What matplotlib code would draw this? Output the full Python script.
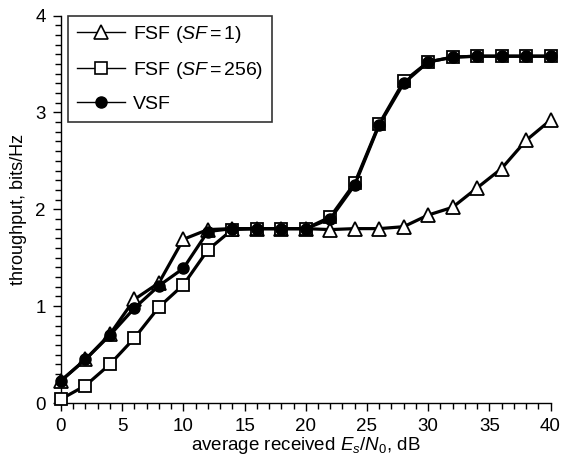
import matplotlib
matplotlib.use("Agg")
import matplotlib.pyplot as plt
from matplotlib.ticker import MultipleLocator
from matplotlib.lines import Line2D

plt.rcParams['font.family'] = ['Liberation Sans', 'DejaVu Sans']
plt.rcParams['mathtext.fontset'] = 'custom'
plt.rcParams['mathtext.rm'] = 'Liberation Sans'
plt.rcParams['mathtext.it'] = 'Liberation Sans:italic'

snr_db = [0, 2, 4, 6, 8, 10, 12, 14, 16, 18, 20, 22, 24, 26, 28, 30, 32, 34, 36, 38, 40]
fsf_sf1 = [0.23, 0.45, 0.71, 1.07, 1.24, 1.69, 1.79, 1.80, 1.80, 1.80, 1.80, 1.79, 1.80, 1.80, 1.82, 1.94, 2.02, 2.22, 2.42, 2.71, 2.92]
fsf_sf256 = [0.04, 0.18, 0.40, 0.67, 0.99, 1.22, 1.58, 1.79, 1.80, 1.80, 1.80, 1.92, 2.27, 2.88, 3.32, 3.52, 3.57, 3.58, 3.58, 3.58, 3.58]
vsf = [0.23, 0.45, 0.70, 0.98, 1.21, 1.39, 1.77, 1.80, 1.80, 1.80, 1.80, 1.90, 2.25, 2.87, 3.30, 3.52, 3.57, 3.58, 3.58, 3.58, 3.58]
labels = ['FSF ($SF\\,$=$\\,$1)', 'FSF ($SF\\,$=$\\,$256)', 'VSF']

fig = plt.figure(figsize=(5.63, 4.57), dpi=100)
ax = fig.add_axes([61/563, 1 - 403/457, (550.5 - 61)/563, (403 - 15.5)/457])

ax.plot(snr_db, fsf_sf1, color='black', lw=2.3, marker='^', ms=10, mfc='white', mec='black', mew=1.3, zorder=3, clip_on=False)
ax.plot(snr_db, fsf_sf256, color='black', lw=2.3, marker='s', ms=9, mfc='white', mec='black', mew=1.3, zorder=4, clip_on=False)
ax.plot(snr_db, vsf, color='black', lw=2.3, marker='o', ms=8, mfc='black', mec='black', zorder=5, clip_on=False)

ax.set_xlim(0, 40)
ax.set_ylim(0, 4)
ax.xaxis.set_major_locator(MultipleLocator(5))
ax.xaxis.set_minor_locator(MultipleLocator(1))
ax.yaxis.set_major_locator(MultipleLocator(1))
ax.yaxis.set_minor_locator(MultipleLocator(0.1))
ax.spines['top'].set_visible(False)
ax.spines['right'].set_visible(False)
ax.tick_params(which='major', direction='out', length=6, width=1, labelsize=13.5, pad=5)
ax.tick_params(which='minor', direction='out', length=4, width=1)
for s in ax.spines.values():
    s.set_linewidth(1)

ax.set_xlabel('average received $E_s/N_0$, dB', fontsize=13.5, labelpad=0)
ax.set_ylabel('throughput, bits/Hz', fontsize=13, labelpad=6)

handles = [
    Line2D([], [], color='black', lw=1, marker='^', ms=10, mfc='white', mec='black', mew=1.2),
    Line2D([], [], color='black', lw=1, marker='s', ms=9, mfc='white', mec='black', mew=1.2),
    Line2D([], [], color='black', lw=1, marker='o', ms=8, mfc='black', mec='black'),
]
leg = ax.legend(handles, labels, loc='upper left', bbox_to_anchor=(7/489.5, 1.0),
                fontsize=14, frameon=True, fancybox=False, edgecolor='black',
                handlelength=2.5, handletextpad=0.4, labelspacing=0.75, borderpad=0.45,
                borderaxespad=0)
leg.get_frame().set_linewidth(1.2)

fig.savefig('out.png', dpi=100)
